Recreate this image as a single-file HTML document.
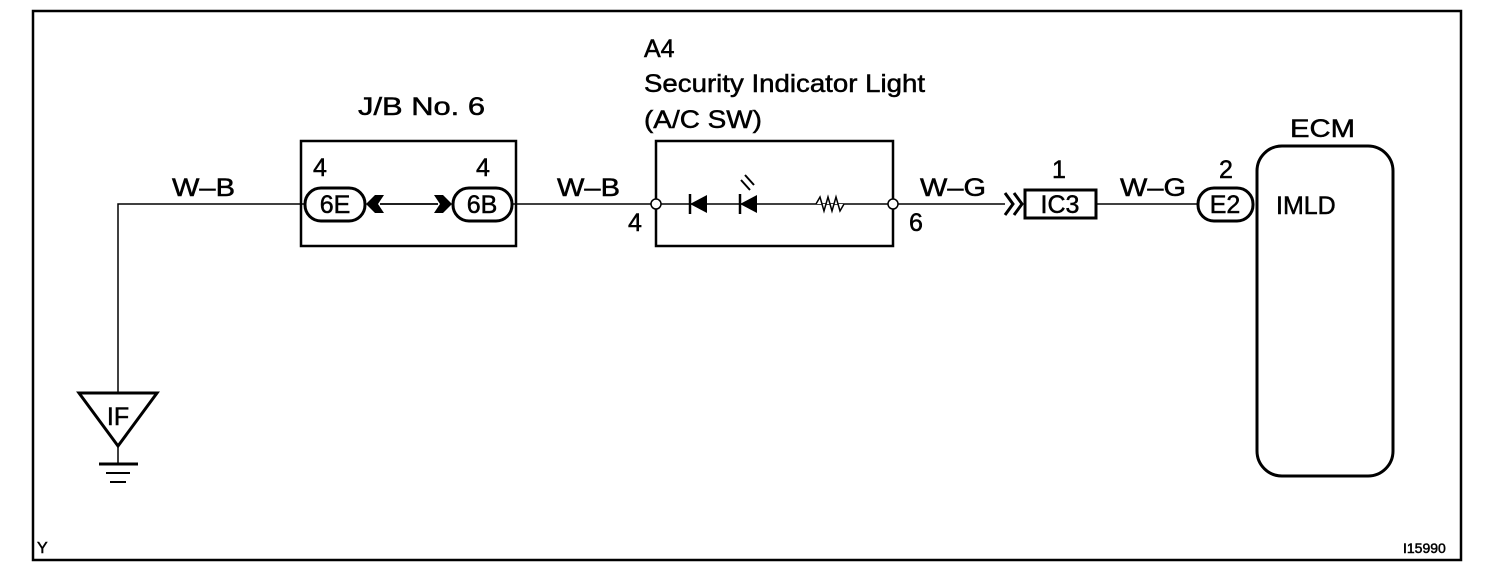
<!DOCTYPE html>
<html><head><meta charset="utf-8"><style>
html,body{margin:0;padding:0;background:#fff;}
svg{display:block;}
text{font-family:"Liberation Sans",Arial,sans-serif;fill:#000;stroke:#000;stroke-width:0.5;}
</style></head><body>
<svg width="1504" height="576" viewBox="0 0 1504 576" xmlns="http://www.w3.org/2000/svg">
<rect x="33" y="11" width="1428" height="549" fill="none" stroke="#000" stroke-width="2.5"/>
<g stroke="#000" fill="none">
<polyline points="118,392 118,204 305,204" stroke-width="1.5"/>
<line x1="512" y1="204" x2="651" y2="204" stroke-width="1.5"/>
<line x1="898" y1="204" x2="1005" y2="204" stroke-width="1.5"/>
<line x1="1096" y1="204" x2="1198" y2="204" stroke-width="1.5"/>
<polygon points="79,393 157,393 118,446" stroke-width="3"/>
<line x1="118" y1="446" x2="118" y2="463" stroke-width="1.5"/>
<line x1="99" y1="464" x2="138" y2="464" stroke-width="3"/>
<line x1="106" y1="473" x2="130" y2="473" stroke-width="2"/>
<line x1="110" y1="482" x2="126" y2="482" stroke-width="2"/>
<rect x="301" y="141" width="215" height="105" stroke-width="2.5"/>
<rect x="305" y="188" width="60" height="33" rx="16" stroke-width="3"/>
<rect x="453" y="188" width="59" height="33" rx="16" stroke-width="3"/>
<line x1="380" y1="204" x2="438" y2="204" stroke-width="1.8"/>
<rect x="656" y="141" width="237" height="105" stroke-width="2.5"/>
<line x1="661" y1="204" x2="888" y2="204" stroke-width="1.5"/>
<polyline points="816,204 820,197 824,211 828,197 832,211 836,197 840,211 844,204" stroke-width="1.5" fill="#fff"/>
<circle cx="656" cy="204" r="5" fill="#fff" stroke-width="1.5"/>
<circle cx="893" cy="204" r="5" fill="#fff" stroke-width="1.5"/>
<polyline points="1005,193 1013,204 1005,215" stroke-width="3"/>
<polyline points="1014,193 1022,204 1014,215" stroke-width="3"/>
<rect x="1025" y="190" width="71" height="28" stroke-width="3"/>
<rect x="1198" y="188" width="55" height="33" rx="16" stroke-width="3"/>
<rect x="1257" y="146" width="136" height="330" rx="25" stroke-width="3"/>
</g>
<polygon points="366,204 375,195 384,195 378,204 384,213 375,213" fill="#000"/>
<polygon points="452,204 443,195 434,195 440,204 434,213 443,213" fill="#000"/>
<polygon points="690,204 707,195 707,213" fill="#000"/>
<line x1="690" y1="194" x2="690" y2="214" stroke="#000" stroke-width="2.5"/>
<polygon points="740,204 757,195 757,213" fill="#000"/>
<line x1="740" y1="194" x2="740" y2="214" stroke="#000" stroke-width="2.5"/>
<line x1="741" y1="180" x2="750" y2="190" stroke="#000" stroke-width="2"/>
<line x1="745" y1="175" x2="754" y2="185" stroke="#000" stroke-width="2"/>
<g font-size="25">
<text x="644" y="57">A4</text>
<text x="644" y="92" textLength="281" lengthAdjust="spacingAndGlyphs">Security Indicator Light</text>
<text x="644" y="128" textLength="118" lengthAdjust="spacingAndGlyphs">(A/C SW)</text>
<text x="358" y="115" textLength="127" lengthAdjust="spacingAndGlyphs">J/B No. 6</text>
<text x="1290" y="137" textLength="65" lengthAdjust="spacingAndGlyphs">ECM</text>
<text x="172" y="196" textLength="63" lengthAdjust="spacingAndGlyphs">W–B</text>
<text x="557" y="196" textLength="63" lengthAdjust="spacingAndGlyphs">W–B</text>
<text x="920" y="196" textLength="66" lengthAdjust="spacingAndGlyphs">W–G</text>
<text x="1120" y="196" textLength="66" lengthAdjust="spacingAndGlyphs">W–G</text>
<text x="313" y="176">4</text>
<text x="476" y="176">4</text>
<text x="628" y="231">4</text>
<text x="909" y="231">6</text>
<text x="1052" y="178">1</text>
<text x="1219" y="178">2</text>
<text x="1276" y="214">IMLD</text>
<text x="335" y="213" text-anchor="middle">6E</text>
<text x="482" y="213" text-anchor="middle">6B</text>
<text x="1060" y="213" text-anchor="middle">IC3</text>
<text x="1225" y="213" text-anchor="middle">E2</text>
<text x="118" y="425" text-anchor="middle">IF</text>
</g>
<text x="37" y="553" font-size="16">Y</text>
<text x="1403" y="553" font-size="14">I15990</text>
</svg>
</body></html>
